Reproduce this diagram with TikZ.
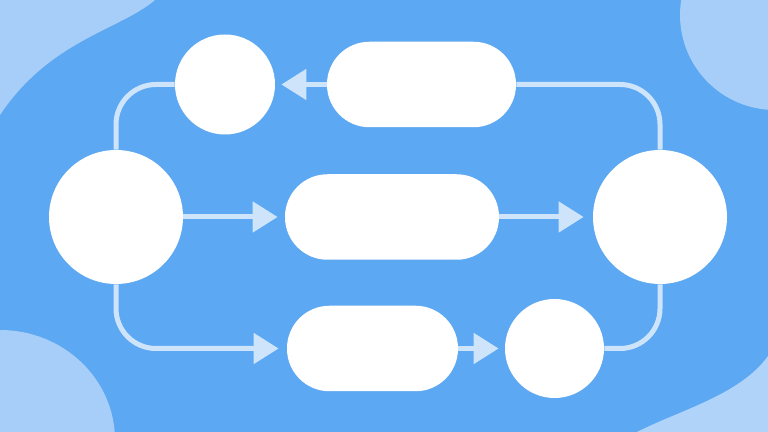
\documentclass[tikz,border=0pt]{standalone}
\usepackage{tikz}
\usetikzlibrary{arrows.meta}
\usetikzlibrary{positioning}
\definecolor{mbg}{HTML}{5CA8F2}
\definecolor{mblob}{HTML}{A6CEF8}
\definecolor{mline}{HTML}{CDE4FB}

\tikzset{
  bubble/.style={circle, fill=white, draw=none, inner sep=0},
  pill/.style={rectangle, rounded corners=0.85cm, fill=white, draw=none,
    minimum height=1.71cm, inner sep=0},
  link/.style={mline, line width=0.1cm},
  flow/.style={link, -{Triangle[length=0.5cm, width=0.6cm]}},
}

\begin{document}
\begin{tikzpicture}
    \useasboundingbox (0, 0) rectangle (15.36, 8.64);
    \fill [mbg] (0, 0) rectangle (15.36, 8.64);

    \begin{scope}
      \clip (0, 0) rectangle (15.36, 8.64);
      \fill [mblob] (0, 8.64) -- (3.1, 8.64) .. controls (2.4, 8.04) and (1.0, 7.84) .. (0, 6.34) -- cycle;
      \fill [mblob] (15.5, 8.34) circle (1.9);
      \fill [mblob] (0, -0.16) ellipse (2.3 and 2.2);
      \fill [mblob!90!white] (12.74, 0) .. controls (13.6, 0.44) and (14.8, 0.74) .. (15.36, 1.52) -- (15.36, 0) -- cycle;
    \end{scope}

    \node [bubble, minimum size=2.68cm] (start) at (2.32, 4.30) {};
    \node [bubble, minimum size=2.68cm] (finish) at (13.2, 4.30) {};
    \node [bubble, minimum size=2.0cm] (back) at (4.5, 6.95) {};
    \node [bubble, minimum size=1.98cm] (merge) at (11.09, 1.67) {};

    \node [pill, minimum width=3.78cm] (upper) at (8.43, 6.95) {};
    \node [pill, minimum width=4.28cm] (middle) at (7.84, 4.30) {};
    \node [pill, minimum width=3.42cm] (lower) at (7.45, 1.67) {};

    \draw [link, rounded corners=0.8cm] (start.north) |- (back.west);
    \draw [flow, shorten >=0.12cm] (upper.west) -- (back.east);
    \draw [link, rounded corners=0.8cm] (upper.east) -| (finish.north);

    \draw [flow, shorten >=0.14cm] (start.east) -- (middle.west);
    \draw [flow, shorten >=0.18cm] (middle.east) -- (finish.west);

    \draw [flow, rounded corners=0.8cm, shorten >=0.16cm] (start.south) |- (lower.west);
    \draw [flow, shorten >=0.12cm] (lower.east) -- (merge.west);
    \draw [link, rounded corners=0.8cm] (merge.east) -| (finish.south);
\end{tikzpicture}
\end{document}
